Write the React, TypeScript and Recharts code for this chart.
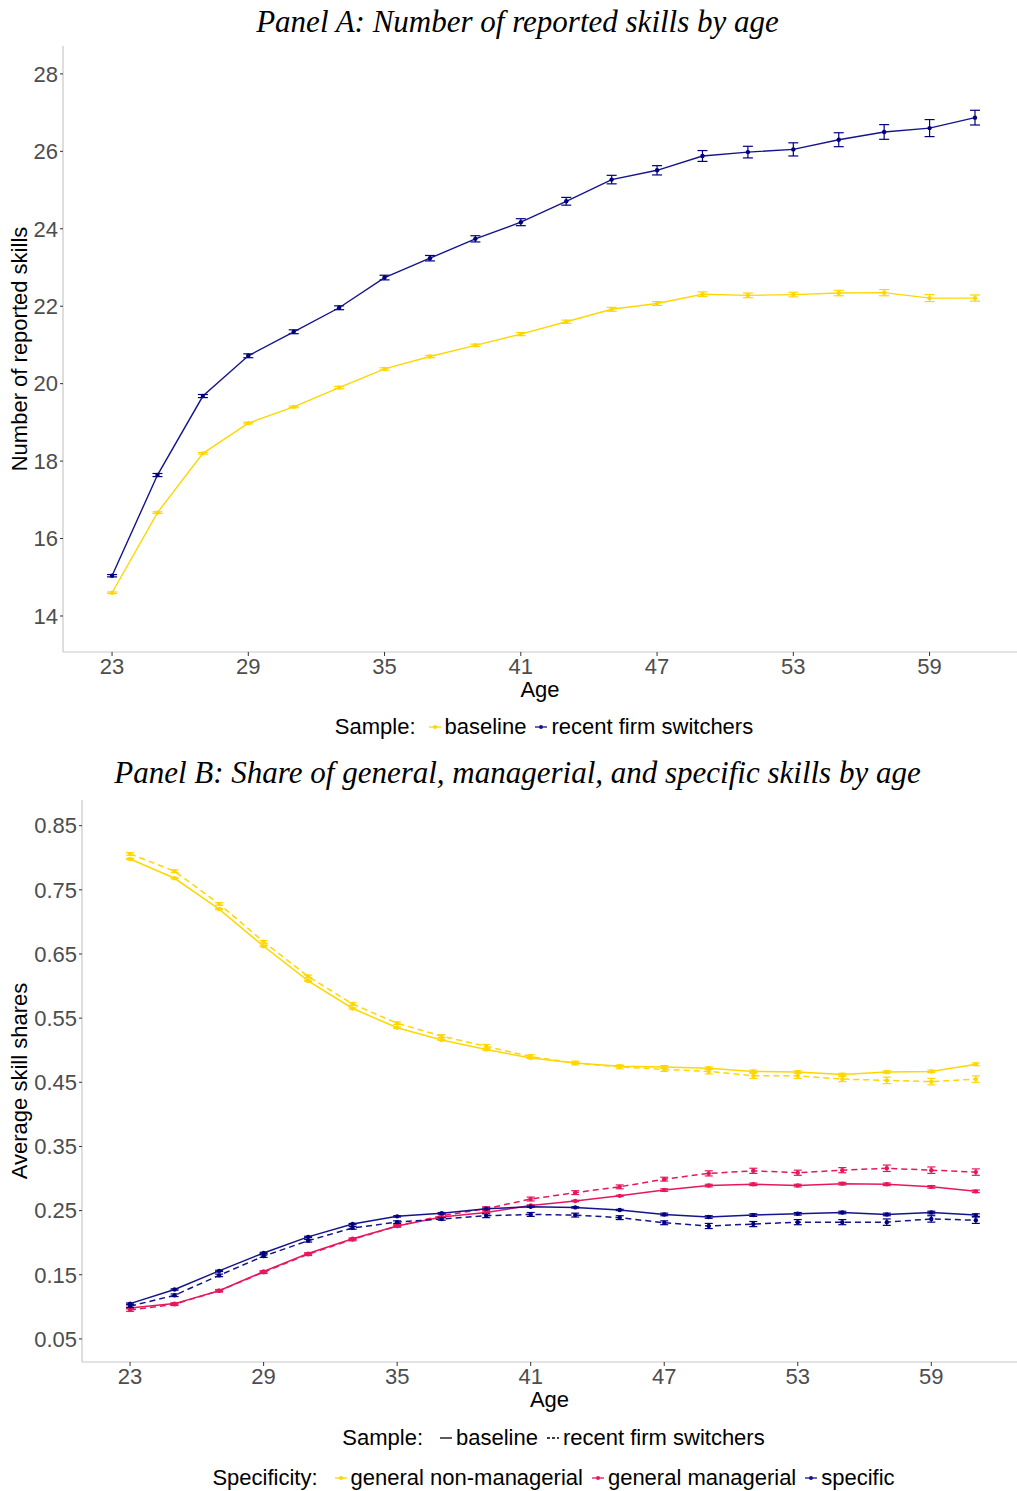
import React from "react";
import { LineChart, Line, XAxis, YAxis, ErrorBar, Legend } from "recharts";

const ages = [23, 25, 27, 29, 31, 33, 35, 37, 39, 41, 43, 45, 47, 49, 51, 53, 55, 57, 59, 61];
const ageTicks = [23, 29, 35, 41, 47, 53, 59];

// Panel A: number of reported skills
const skillsBaseline = [14.6, 16.67, 18.2, 18.98, 19.4, 19.9, 20.38, 20.7, 20.99, 21.28, 21.6, 21.92, 22.07, 22.31, 22.28, 22.3, 22.34, 22.35, 22.21, 22.21];
const skillsBaselineErr = [0.02, 0.02, 0.02, 0.02, 0.02, 0.03, 0.03, 0.03, 0.03, 0.04, 0.04, 0.05, 0.05, 0.06, 0.06, 0.06, 0.07, 0.08, 0.09, 0.08];
const skillsSwitchers = [15.04, 17.64, 19.68, 20.72, 21.34, 21.96, 22.74, 23.24, 23.74, 24.17, 24.71, 25.27, 25.51, 25.88, 25.98, 26.05, 26.3, 26.5, 26.6, 26.87];
const skillsSwitchersErr = [0.03, 0.04, 0.04, 0.05, 0.05, 0.05, 0.06, 0.07, 0.08, 0.09, 0.1, 0.11, 0.12, 0.14, 0.15, 0.17, 0.18, 0.19, 0.22, 0.19];
const skillTicks = [14, 16, 18, 20, 22, 24, 26, 28];

// Panel B: skill shares
const nonMgrBaseline = [0.798, 0.768, 0.72, 0.662, 0.608, 0.565, 0.535, 0.516, 0.501, 0.488, 0.48, 0.475, 0.474, 0.472, 0.467, 0.466, 0.462, 0.466, 0.467, 0.478];
const nonMgrSwitchers = [0.806, 0.779, 0.728, 0.669, 0.615, 0.572, 0.542, 0.522, 0.506, 0.49, 0.48, 0.474, 0.47, 0.467, 0.46, 0.46, 0.455, 0.453, 0.451, 0.455];
const mgrBaseline = [0.098, 0.105, 0.125, 0.155, 0.183, 0.206, 0.226, 0.24, 0.247, 0.258, 0.265, 0.273, 0.282, 0.289, 0.291, 0.289, 0.292, 0.291, 0.287, 0.28];
const mgrSwitchers = [0.095, 0.104, 0.125, 0.154, 0.182, 0.205, 0.226, 0.242, 0.253, 0.268, 0.278, 0.287, 0.299, 0.308, 0.312, 0.309, 0.313, 0.316, 0.313, 0.31];
const specBaseline = [0.105, 0.127, 0.156, 0.184, 0.209, 0.229, 0.241, 0.246, 0.253, 0.256, 0.255, 0.251, 0.244, 0.24, 0.243, 0.245, 0.247, 0.244, 0.247, 0.243];
const specSwitchers = [0.101, 0.118, 0.149, 0.179, 0.203, 0.223, 0.232, 0.237, 0.242, 0.244, 0.243, 0.239, 0.231, 0.226, 0.229, 0.232, 0.232, 0.232, 0.237, 0.235];
const baselineShareErr = [0.001, 0.001, 0.001, 0.001, 0.001, 0.001, 0.001, 0.001, 0.001, 0.001, 0.001, 0.001, 0.002, 0.002, 0.002, 0.002, 0.002, 0.002, 0.002, 0.002];
const switchersShareErr = [0.002, 0.002, 0.002, 0.002, 0.002, 0.002, 0.002, 0.002, 0.003, 0.003, 0.003, 0.003, 0.003, 0.004, 0.004, 0.004, 0.004, 0.005, 0.005, 0.005];
const shareTicks = [0.05, 0.15, 0.25, 0.35, 0.45, 0.55, 0.65, 0.75, 0.85];

const YELLOW = "#FFD700";
const NAVY = "#14148C";
const PINK = "#E8175D";

const panelA = ages.map((age, i) => ({
  age,
  baseline: skillsBaseline[i],
  baselineErr: skillsBaselineErr[i],
  switchers: skillsSwitchers[i],
  switchersErr: skillsSwitchersErr[i],
}));

const panelB = ages.map((age, i) => ({
  age,
  nonMgrBase: nonMgrBaseline[i],
  nonMgrSw: nonMgrSwitchers[i],
  mgrBase: mgrBaseline[i],
  mgrSw: mgrSwitchers[i],
  specBase: specBaseline[i],
  specSw: specSwitchers[i],
  baseErr: baselineShareErr[i],
  swErr: switchersShareErr[i],
}));

const SANS = "'Liberation Sans', Arial, sans-serif";
const SERIF = "'Liberation Serif', 'DejaVu Serif', serif";
const tickStyle = { fill: "#4D4D4D", fontSize: 22, fontFamily: SANS };
const axisLine = { stroke: "#C8C8C8", strokeWidth: 1.2 };
const tickLine = { stroke: "#333333" };
const labelStyle = { fill: "#000", fontSize: 22, fontFamily: SANS, textAnchor: "middle" as const };

function Key({ color, dashed, dot }: { color: string; dashed?: boolean; dot?: boolean }) {
  return (
    <svg width={14} height={12} style={{ margin: "0 3px 0 8px" }}>
      <line x1={1} y1={6} x2={13} y2={6} stroke={color} strokeWidth={1.3} strokeDasharray={dashed ? "3 2" : undefined} />
      {dot && <circle cx={7} cy={6} r={2} fill={color} />}
    </svg>
  );
}

const legendRow: React.CSSProperties = {
  display: "flex",
  justifyContent: "center",
  alignItems: "center",
  fontFamily: SANS,
  fontSize: 22,
  color: "#000",
  whiteSpace: "nowrap",
  boxSizing: "border-box",
};

function LegendA() {
  return (
    <div style={{ ...legendRow, height: 44, paddingLeft: 71, paddingTop: 6 }}>
      <span style={{ marginRight: 4 }}>Sample:</span>
      <Key color={YELLOW} dot />
      <span>baseline</span>
      <Key color={NAVY} dot />
      <span>recent firm switchers</span>
    </div>
  );
}

function LegendB() {
  return (
    <div style={{ height: 79, paddingLeft: 90, paddingTop: 6, boxSizing: "border-box" }}>
      <div style={{ ...legendRow, height: 47, alignItems: "flex-start", paddingTop: 7 }}>
        <span style={{ marginRight: 8 }}>Sample:</span>
        <span style={{ display: "flex", alignItems: "center", height: 26 }}><Key color="#000" /></span>
        <span>baseline</span>
        <span style={{ display: "flex", alignItems: "center", height: 26 }}><Key color="#000" dashed /></span>
        <span>recent firm switchers</span>
      </div>
      <div style={{ ...legendRow, height: 26, alignItems: "flex-start" }}>
        <span style={{ marginRight: 8 }}>Specificity:</span>
        <span style={{ display: "flex", alignItems: "center", height: 26 }}><Key color={YELLOW} dot /></span>
        <span>general non-managerial</span>
        <span style={{ display: "flex", alignItems: "center", height: 26 }}><Key color={PINK} dot /></span>
        <span>general managerial</span>
        <span style={{ display: "flex", alignItems: "center", height: 26 }}><Key color={NAVY} dot /></span>
        <span>specific</span>
      </div>
    </div>
  );
}

const titleStyle: React.CSSProperties = {
  position: "absolute",
  left: 0,
  width: 1017,
  paddingLeft: 18,
  boxSizing: "border-box",
  textAlign: "center",
  fontFamily: SERIF,
  fontStyle: "italic",
  fontSize: 31,
  lineHeight: "40px",
  color: "#000",
};

export default function App() {
  return (
    <div style={{ position: "absolute", left: 0, top: 0, width: 1017, height: 1491, background: "#fff" }}>
      <div style={{ ...titleStyle, top: 2 }}>Panel A: Number of reported skills by age</div>
      <div style={{ position: "absolute", left: 0, top: 0 }}>
        <LineChart width={1017} height={746} data={panelA} margin={{ top: 46, right: 0, bottom: 0, left: 0 }}>
          <XAxis
            dataKey="age"
            type="number"
            domain={[20.84, 62.85]}
            ticks={ageTicks}
            allowDataOverflow
            height={50}
            tick={tickStyle}
            tickSize={4}
            tickMargin={2}
            axisLine={axisLine}
            tickLine={tickLine}
            label={{ value: "Age", position: "insideBottom", offset: 5, style: labelStyle }}
          />
          <YAxis
            type="number"
            domain={[13.07, 28.72]}
            ticks={skillTicks}
            allowDataOverflow
            width={63}
            tick={tickStyle}
            tickSize={3}
            tickMargin={2}
            axisLine={axisLine}
            tickLine={tickLine}
            label={{ value: "Number of reported skills", angle: -90, position: "insideLeft", offset: 19, style: labelStyle }}
          />
          <Legend verticalAlign="bottom" content={() => <LegendA />} />
          <Line dataKey="baseline" stroke={YELLOW} strokeWidth={1.4} dot={{ r: 2.2, fill: YELLOW, stroke: "none" }} isAnimationActive={false}>
            <ErrorBar dataKey="baselineErr" direction="y" width={5} stroke={YELLOW} strokeWidth={1.2} />
          </Line>
          <Line dataKey="switchers" stroke={NAVY} strokeWidth={1.4} dot={{ r: 2.2, fill: "#000080", stroke: "none" }} isAnimationActive={false}>
            <ErrorBar dataKey="switchersErr" direction="y" width={5} stroke="#000080" strokeWidth={1.2} />
          </Line>
        </LineChart>
      </div>
      <div style={{ ...titleStyle, top: 753 }}>Panel B: Share of general, managerial, and specific skills by age</div>
      <div style={{ position: "absolute", left: 0, top: 746 }}>
        <LineChart width={1017} height={745} data={panelB} margin={{ top: 54, right: 0, bottom: 0, left: 0 }}>
          <XAxis
            dataKey="age"
            type="number"
            domain={[20.84, 62.85]}
            ticks={ageTicks}
            allowDataOverflow
            height={50}
            tick={tickStyle}
            tickSize={4}
            tickMargin={2}
            axisLine={axisLine}
            tickLine={tickLine}
            label={{ value: "Age", position: "insideBottom", offset: 5, style: labelStyle }}
          />
          <YAxis
            type="number"
            domain={[0.014, 0.89]}
            ticks={shareTicks}
            allowDataOverflow
            width={82}
            tick={tickStyle}
            tickSize={3}
            tickMargin={2}
            tickFormatter={(v: number) => v.toFixed(2)}
            axisLine={axisLine}
            tickLine={tickLine}
            label={{ value: "Average skill shares", angle: -90, position: "insideLeft", offset: 19, style: labelStyle }}
          />
          <Legend verticalAlign="bottom" content={() => <LegendB />} />
          <Line dataKey="nonMgrBase" stroke={YELLOW} strokeWidth={1.5} dot={{ r: 2.2, fill: YELLOW, stroke: "none" }} isAnimationActive={false}>
            <ErrorBar dataKey="baseErr" direction="y" width={4} stroke={YELLOW} strokeWidth={1.2} />
          </Line>
          <Line dataKey="nonMgrSw" stroke={YELLOW} strokeWidth={1.5} strokeDasharray="6 4" dot={{ r: 2.2, fill: YELLOW, stroke: "none" }} isAnimationActive={false}>
            <ErrorBar dataKey="swErr" direction="y" width={4} stroke={YELLOW} strokeWidth={1.2} />
          </Line>
          <Line dataKey="mgrBase" stroke={PINK} strokeWidth={1.5} dot={{ r: 2.2, fill: PINK, stroke: "none" }} isAnimationActive={false}>
            <ErrorBar dataKey="baseErr" direction="y" width={4} stroke={PINK} strokeWidth={1.2} />
          </Line>
          <Line dataKey="mgrSw" stroke={PINK} strokeWidth={1.5} strokeDasharray="6 4" dot={{ r: 2.2, fill: PINK, stroke: "none" }} isAnimationActive={false}>
            <ErrorBar dataKey="swErr" direction="y" width={4} stroke={PINK} strokeWidth={1.2} />
          </Line>
          <Line dataKey="specBase" stroke={NAVY} strokeWidth={1.5} dot={{ r: 2.2, fill: "#000080", stroke: "none" }} isAnimationActive={false}>
            <ErrorBar dataKey="baseErr" direction="y" width={4} stroke="#000080" strokeWidth={1.2} />
          </Line>
          <Line dataKey="specSw" stroke={NAVY} strokeWidth={1.5} strokeDasharray="6 4" dot={{ r: 2.2, fill: "#000080", stroke: "none" }} isAnimationActive={false}>
            <ErrorBar dataKey="swErr" direction="y" width={4} stroke="#000080" strokeWidth={1.2} />
          </Line>
        </LineChart>
      </div>
    </div>
  );
}
